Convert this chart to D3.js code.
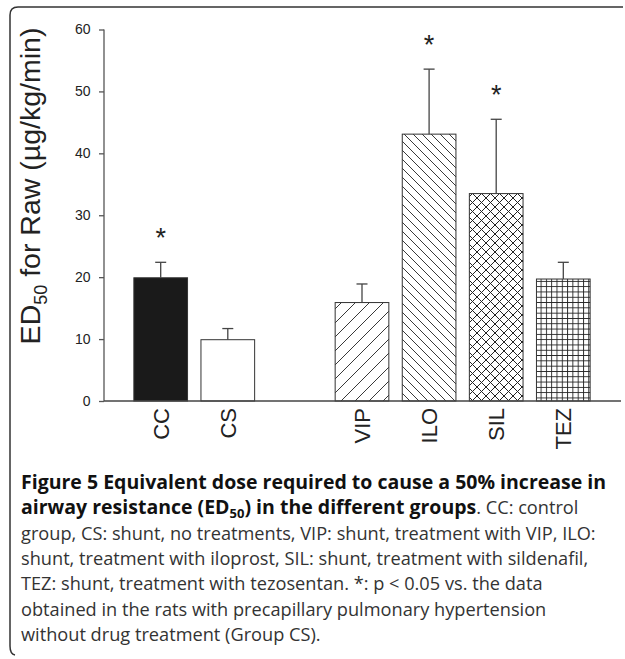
<!DOCTYPE html>
<html><head><meta charset="utf-8">
<script src="https://cdn.jsdelivr.net/npm/d3@7"></script>
<style>body{margin:0;background:#fff}svg{display:block}</style>
</head><body>
<script>
const categories = ["CC","CS","","VIP","ILO","SIL","TEZ"];
const groups = ["CC","CS","VIP","ILO","SIL","TEZ"];
const means = [19.9, 9.9, 15.9, 43.1, 33.5, 19.7];
const errors = [2.5, 1.8, 3.0, 10.5, 12.0, 2.7];
const significant = [true, false, false, true, true, false];
const fills = ["solid","none","diagUp","diagDown","cross","grid"];
const yTicks = [0,10,20,30,40,50,60];
const captionLines = [
  [{t:"Figure 5 Equivalent dose required to cause a 50% increase in", b:true}],
  [{t:"airway resistance (ED", b:true},{t:"50", b:true, sub:true},{t:") in the different groups", b:true},{t:". CC: control", b:false}],
  [{t:"group, CS: shunt, no treatments, VIP: shunt, treatment with VIP, ILO:", b:false}],
  [{t:"shunt, treatment with iloprost, SIL: shunt, treatment with sildenafil,", b:false}],
  [{t:"TEZ: shunt, treatment with tezosentan. *: p < 0.05 vs. the data", b:false}],
  [{t:"obtained in the rats with precapillary pulmonary hypertension", b:false}],
  [{t:"without drug treatment (Group CS).", b:false}]
];

const W=625,H=659;
const svg=d3.select("body").append("svg").attr("width",W).attr("height",H);
svg.append("rect").attr("width",W).attr("height",H).attr("fill","#fff");

// frame
svg.append("path").attr("d","M623,7 H18 Q10,7 10,15 V646 Q10,654 15,655")
  .attr("fill","none").attr("stroke","#333").attr("stroke-width",1.5);

const defs=svg.append("defs");
const ink="#222";
function pat(id,size,draw){
  const p=defs.append("pattern").attr("id",id).attr("patternUnits","userSpaceOnUse")
    .attr("width",size).attr("height",size);
  p.append("rect").attr("width",size).attr("height",size).attr("fill","#fff");
  draw(p,size);
}
pat("diagUp",14,(p,s)=>{
  p.append("path").attr("d",`M0,${s} L${s},0 M${-s/2},${s/2} L${s/2},${-s/2} M${s/2},${s*1.5} L${s*1.5},${s/2}`)
   .attr("stroke",ink).attr("stroke-width",0.9);
});
pat("diagDown",9,(p,s)=>{
  p.append("path").attr("d",`M0,0 L${s},${s} M${-s/2},${s/2} L${s/2},${s*1.5} M${s/2},${-s/2} L${s*1.5},${s/2}`)
   .attr("stroke",ink).attr("stroke-width",0.9);
});
pat("cross",9,(p,s)=>{
  p.append("path").attr("d",`M0,0 L${s},${s} M0,${s} L${s},0`)
   .attr("stroke",ink).attr("stroke-width",1);
});
pat("grid",5.3,(p,s)=>{
  p.append("path").attr("d",`M0,0.5 H${s} M0.5,0 V${s}`)
   .attr("stroke",ink).attr("stroke-width",0.9);
});

const x=d3.scaleBand().domain(categories.map((c,i)=>i)).range([104,620]).paddingInner(0.2).paddingOuter(0.445);
const y=d3.scaleLinear().domain([0,60]).range([401,29.5]);
const xi = g => categories.indexOf(g);

const fillOf = f => f==="solid" ? "#1a1a1a" : f==="none" ? "#fff" : `url(#${f})`;

// bars
svg.append("g").selectAll("rect").data(groups).join("rect")
  .attr("x",g=>x(xi(g))).attr("width",x.bandwidth())
  .attr("y",(g,i)=>y(means[i])).attr("height",(g,i)=>y(0)-y(means[i]))
  .attr("fill",(g,i)=>fillOf(fills[i])).attr("stroke","#333").attr("stroke-width",1);

// error bars
const eg=svg.append("g").attr("stroke","#444").attr("stroke-width",1.3);
groups.forEach((g,i)=>{
  const cx=x(xi(g))+x.bandwidth()/2;
  eg.append("line").attr("x1",cx).attr("x2",cx).attr("y1",y(means[i])).attr("y2",y(means[i]+errors[i]));
  eg.append("line").attr("x1",cx-5.5).attr("x2",cx+5.5).attr("y1",y(means[i]+errors[i])).attr("y2",y(means[i]+errors[i]));
  if(significant[i]){
    svg.append("text").attr("x",cx).attr("y",y(means[i]+errors[i])-15)
      .attr("text-anchor","middle").attr("font-family","Liberation Sans, Arial, sans-serif")
      .attr("font-size",27).attr("fill","#222").text("*");
  }
});

// y axis
const ya=svg.append("g").attr("transform","translate(104,0)")
  .call(d3.axisLeft(y).tickValues(yTicks).tickSize(5).tickPadding(8.5));
ya.selectAll("path,line").attr("stroke","#555").attr("stroke-width",1.3);
ya.select(".domain").attr("d",`M0,${y(60)}V${y(0)}`);
ya.selectAll("text").attr("font-family","Liberation Sans, Arial, sans-serif").attr("font-size",14).attr("fill","#222");

// x axis line
const xa=svg.append("g").attr("transform","translate(0,401)")
  .call(d3.axisBottom(x).tickSize(0).tickFormat(""));
xa.select(".domain").attr("stroke","#444").attr("stroke-width",1.5).attr("d","M104,0H621");

// category labels
svg.append("g").selectAll("text").data(groups).join("text")
  .attr("transform",g=>`translate(${x(xi(g))+x.bandwidth()/2+8},408) rotate(-90)`)
  .attr("text-anchor","end").attr("font-family","Liberation Sans, Arial, sans-serif")
  .attr("font-size",22).attr("fill","#222").text(g=>g);

// y label
const yl=svg.append("text").attr("transform","translate(40,186) rotate(-90)")
  .attr("text-anchor","middle").attr("font-family","Liberation Sans, Arial, sans-serif")
  .attr("font-size",28.5).attr("fill","#222");
yl.append("tspan").text("ED");
yl.append("tspan").attr("font-size",18).attr("dy",7).text("50");
yl.append("tspan").attr("dy",-7).text(" for Raw (µg/kg/min)");

// caption
const cap=svg.append("g").attr("font-family","Open Sans, sans-serif");
captionLines.forEach((line,li)=>{
  const t=cap.append("text").attr("x",21).attr("y",489+li*25.3);
  line.forEach(seg=>{
    const s=t.append("tspan").attr("font-weight",seg.b?700:400)
      .attr("font-size",seg.b?19.5:18.2).attr("fill",seg.b?"#111":"#333").text(seg.t);
    if(seg.sub){ s.attr("font-size",13).attr("dy",4); }
    else if(seg.t.startsWith(")")) s.attr("dy",-4);
  });
});
</script>
</body></html>
